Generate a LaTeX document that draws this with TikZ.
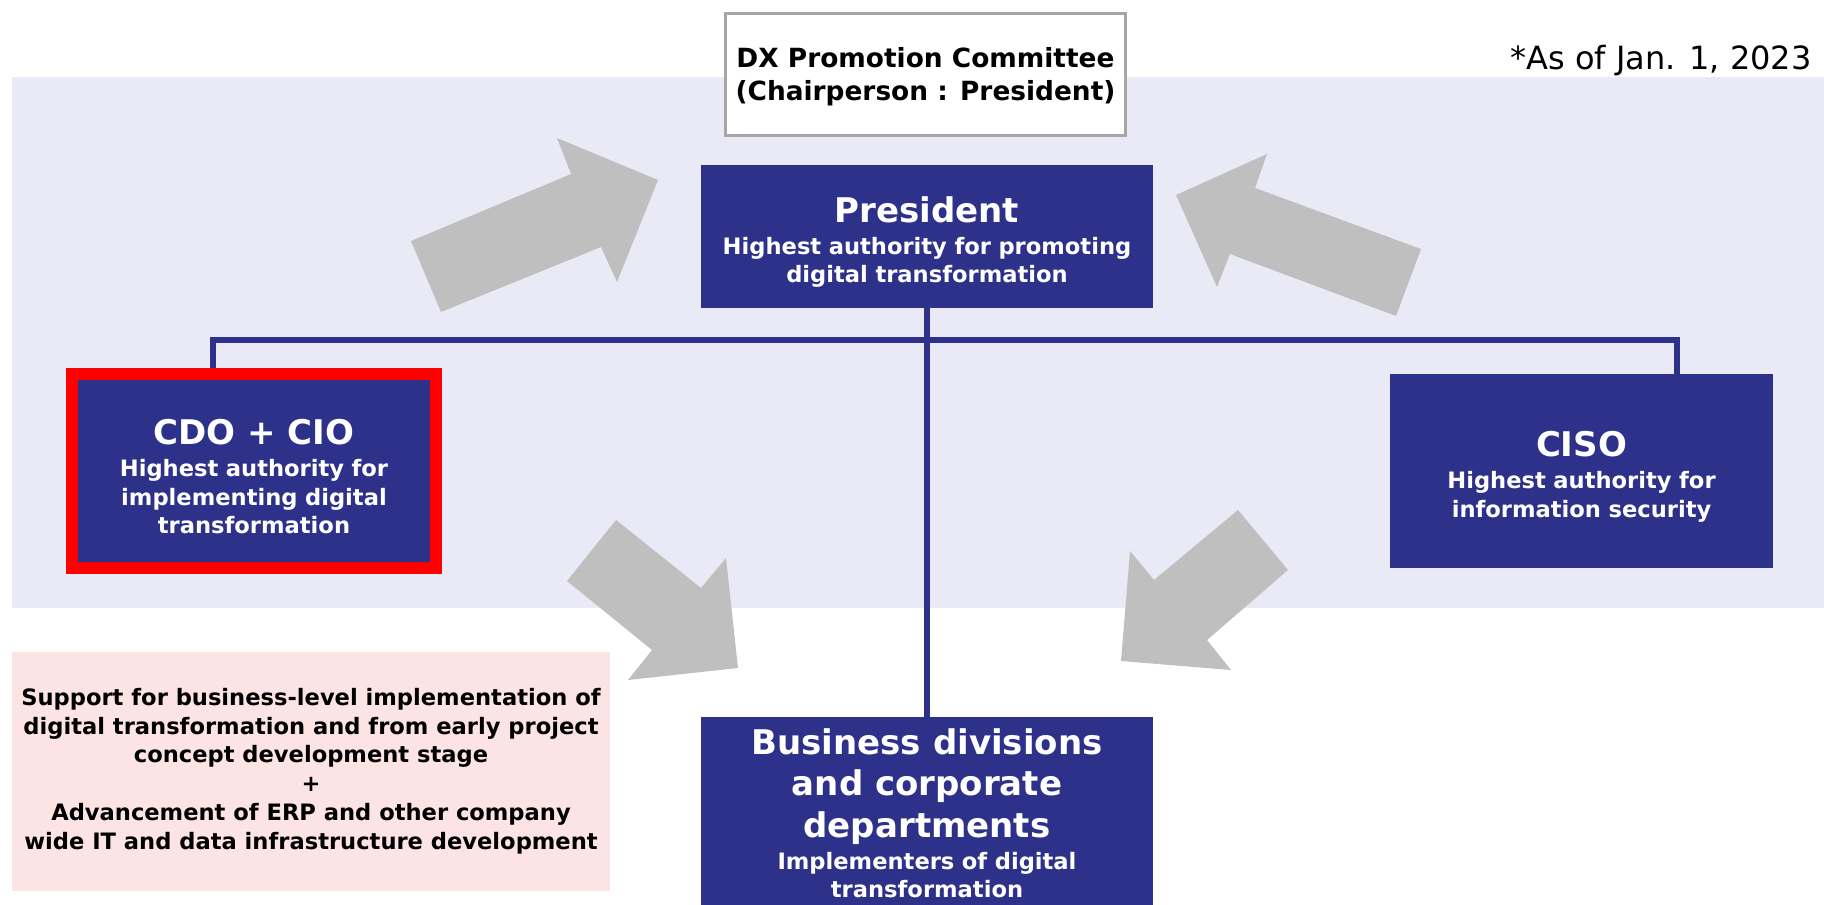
\documentclass[tikz,border=0pt]{standalone}
\usepackage{fontspec}
\setmainfont{DejaVu Sans}
\usetikzlibrary{positioning}

\definecolor{orgnavy}{RGB}{46,49,138}
\definecolor{bandlav}{RGB}{234,234,246}
\definecolor{notepink}{RGB}{253,228,228}
\definecolor{arrowgray}{RGB}{191,191,191}
\definecolor{framegray}{RGB}{166,166,166}

% big first line of a role box, with a strut that pushes the text down a little
\newcommand{\roletitle}[1]{{\fontsize{17}{20.7}\selectfont\spaceskip=\fontdimen2\font\xspaceskip=\fontdimen2\font\rule{0pt}{18.5pt}#1\par}\vspace{1.8pt}}

\tikzset{
	orgbox/.style={fill=orgnavy, text=white, align=center, inner xsep=0pt, inner ysep=0pt,
		font=\bfseries\fontsize{11.3}{14.2}\selectfont},
	committee/.style={draw=framegray, fill=white, line width=1.5pt, align=center,
		minimum width=200pt, minimum height=61pt, font=\bfseries\fontsize{13.2}{16.5}\selectfont},
	note/.style={fill=notepink, align=center, minimum width=299pt, minimum height=119.5pt,
		inner sep=0pt, font=\bfseries\fontsize{11.3}{14.4}\selectfont},
	orgline/.style={draw=orgnavy, line width=3pt},
	bigarrow/.style={fill=arrowgray}
}

\begin{document}
\begin{tikzpicture}[x=0.5pt,y=-0.5pt]
			\useasboundingbox (0,0) rectangle (1824,904);
			% the lavender band
			\fill[bandlav] (12,77) rectangle (1824,608);
			% big gray arrows round the president
			\fill[bigarrow] (411,241) -- (441,312) -- (601,247) -- (617,282) -- (658,180) -- (557,138) -- (571,174) -- cycle;
			\fill[bigarrow] (1421,249) -- (1396,316) -- (1230,254) -- (1217,287) -- (1176,195) -- (1267,154) -- (1255,188) -- cycle;
			\fill[bigarrow] (616,520) -- (701,588) -- (726,558) -- (738,668) -- (628,680) -- (652,650) -- (567,581) -- cycle;
			\fill[bigarrow] (1238,510) -- (1288,570) -- (1207,640) -- (1231,670) -- (1121,661) -- (1130,551) -- (1154,580) -- cycle;
			% committee and date
			\node[committee] (dx) at (925.5,74.5) {\rule{0pt}{12.5pt}DX Promotion Committee\\(Chairperson : President)};
			\node[anchor=base east, inner sep=0pt, font=\fontsize{16}{18}\selectfont] (asof) at (1812,70) {*As of Jan. 1, 2023};
			% the roles
			\node[orgbox, text width=220pt, minimum width=226pt, minimum height=71.5pt] (pres) at (927,236.5)
				{\roletitle{President}Highest authority for promoting\\ digital transformation};
			\node[orgbox, draw=red, line width=6pt, text width=175pt, minimum width=182pt, minimum height=97pt] (cdo) at (254,471)
				{\roletitle{CDO + CIO}Highest authority for\\ implementing digital\\ transformation};
			\node[orgbox, text width=185pt, minimum width=191.5pt, minimum height=97pt] (ciso) at (1581.5,471)
				{\roletitle{CISO}Highest authority for\\ information security};
			% runs off the bottom edge
			\node[orgbox, anchor=north, text width=215pt, minimum width=226pt, inner ysep=0pt] (biz) at (927,717)
				{\roletitle{Business divisions\\ and corporate\\ departments}Implementers of digital\\ transformation\par\vspace{14pt}};
			% the support note
			\node[note] (support) at (311,771) {Support for business-level implementation of\\ digital transformation and from early project\\ concept development stage\\ +\\ Advancement of ERP and other company\\ wide IT and data infrastructure development};
			% reporting lines
			\coordinate (lbend) at (213,340);
			\coordinate (rbend) at (1677,340);
			\draw[orgline] (pres.south) -- (biz.north);
			\draw[orgline] (cdo.north -| lbend) -- (lbend) -- (rbend) -- (ciso.north -| rbend);
		\end{tikzpicture}
\end{document}
